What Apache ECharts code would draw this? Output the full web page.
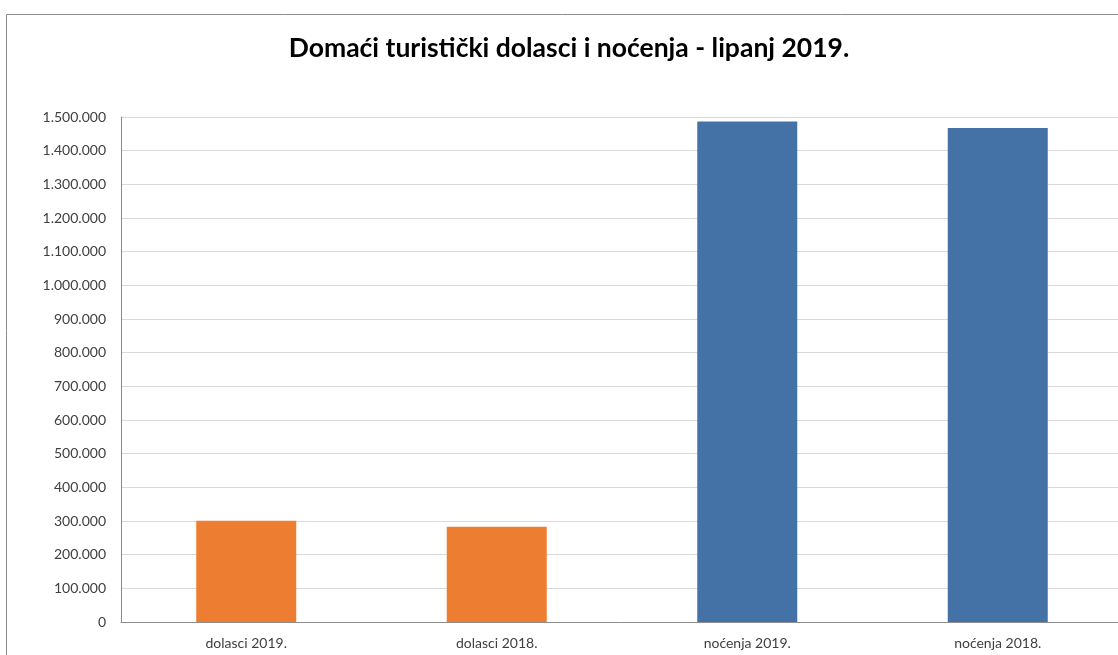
<!DOCTYPE html>
<html>
<head>
<meta charset="utf-8">
<script src="https://cdn.jsdelivr.net/npm/echarts@6/dist/echarts.min.js"></script>
<style>
html,body{margin:0;padding:0;background:#fff;}
#c{width:1118px;height:655px;}
</style>
</head>
<body>
<div id="c"></div>
<script>
const titleText = 'Domaći turistički dolasci i noćenja - lipanj 2019.';
const categories = ['dolasci 2019.', 'dolasci 2018.', 'noćenja 2019.', 'noćenja 2018.'];
const values = [301000, 283000, 1487000, 1467000];
const barColors = ['#ED7D31', '#ED7D31', '#4472A7', '#4472A7'];

function fmt(v) {
  return String(v).replace(/\B(?=(\d{3})+(?!\d))/g, '.');
}

const chart = echarts.init(document.getElementById('c'), null, {renderer: 'canvas'});
const font = 'Lato, "Open Sans", sans-serif';
chart.setOption({
  animation: false,
  backgroundColor: '#fff',
  graphic: [{
    type: 'rect',
    shape: {x: 6.5, y: 14.5, width: 1200, height: 700},
    style: {fill: 'none', stroke: '#8c8c8c', lineWidth: 1},
    silent: true,
    z: -10
  }],
  title: {
    text: titleText,
    left: 564,
    textAlign: 'center',
    top: 30,
    textStyle: {fontFamily: font, fontSize: 26.5, fontWeight: 'bold', color: '#000'}
  },
  grid: {left: 121, top: 117, width: 1002, height: 505, containLabel: false, outerBoundsMode: 'none'},
  xAxis: {
    type: 'category',
    data: categories,
    axisLine: {lineStyle: {color: '#8c8c8c', width: 1}},
    axisTick: {show: false},
    axisLabel: {fontFamily: font, fontSize: 14, color: '#404040', margin: 14}
  },
  yAxis: {
    type: 'value',
    min: 0,
    max: 1500000,
    interval: 100000,
    axisLine: {show: true, lineStyle: {color: '#8c8c8c', width: 1}},
    axisTick: {show: false},
    splitLine: {lineStyle: {color: '#d9d9d9', width: 1}},
    axisLabel: {fontFamily: font, fontSize: 14, color: '#404040', margin: 15, formatter: fmt}
  },
  series: [{
    type: 'bar',
    barWidth: 100,
    data: values.map((v, i) => ({value: v, itemStyle: {color: barColors[i]}}))
  }]
});
</script>
</body>
</html>
